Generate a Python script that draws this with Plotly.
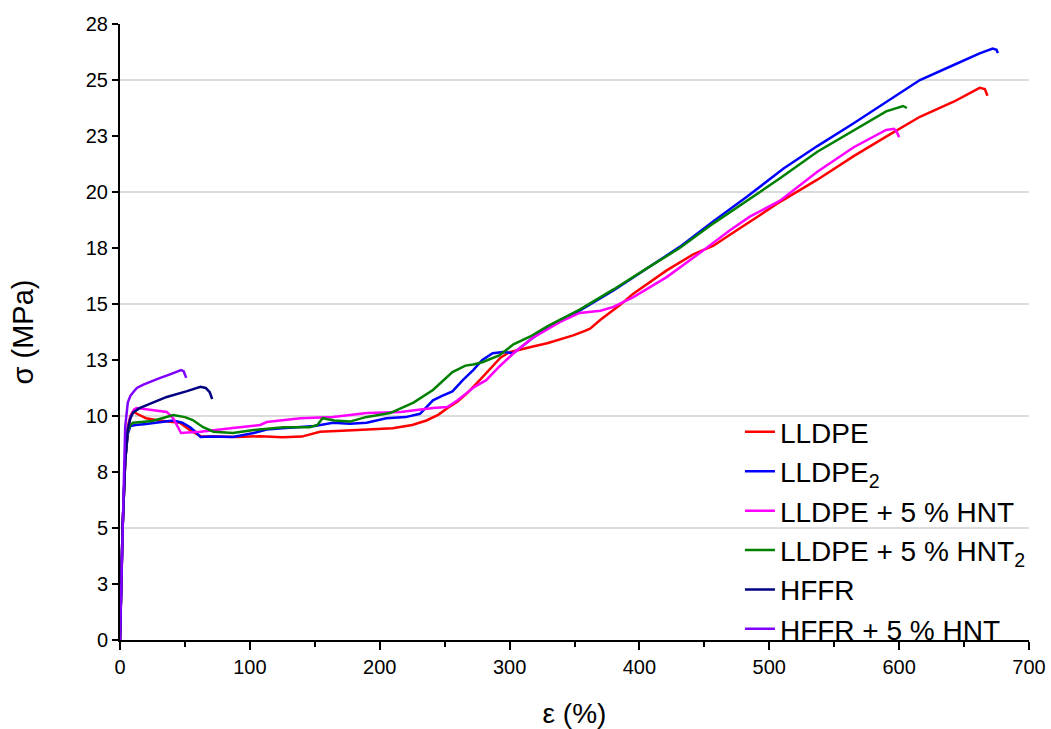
import plotly.graph_objects as go

# Tensile curves: strain (%) vs. stress (MPa)
lldpe_x = [0, 1, 2, 4, 6, 8, 10, 13, 20, 30, 40, 46, 54, 62, 75, 90, 108, 125, 140, 154, 175,
           195, 210, 225, 236, 245, 252, 260, 267, 277, 285, 293, 300, 308, 318, 329, 340, 349,
           358, 362, 370, 378, 385, 395, 406, 421, 441, 457, 470, 483, 508, 537, 565, 590, 616,
           642, 655, 662, 666, 668]
lldpe_y = [0, 2.5, 5, 8, 9.5, 10.0, 10.2, 10.1, 9.9, 9.8, 9.75, 9.7, 9.37, 9.1, 9.08, 9.06,
           9.1, 9.05, 9.08, 9.3, 9.35, 9.4, 9.45, 9.6, 9.8, 10.05, 10.35, 10.65, 11.0, 11.6,
           12.1, 12.6, 12.85, 12.95, 13.1, 13.25, 13.45, 13.6, 13.8, 13.9, 14.3, 14.65, 14.95,
           15.45, 15.9, 16.5, 17.2, 17.6, 18.1, 18.6, 19.55, 20.55, 21.6, 22.47, 23.36, 24.03,
           24.45, 24.65, 24.6, 24.3]

lldpe2_x = [0, 1, 2, 4, 6, 8, 12, 20, 30, 41, 48, 54, 58, 62, 70, 87, 103, 113, 125, 139, 150,
            164, 177, 190, 205, 220, 231, 236, 241, 248, 256, 264, 272, 279, 287, 295, 303, 316,
            329, 340, 354, 380, 406, 431, 457, 483, 511, 537, 565, 590, 616, 642, 662, 672, 675,
            676]
lldpe2_y = [0, 2.5, 5, 8, 9.2, 9.55, 9.6, 9.64, 9.72, 9.8, 9.7, 9.5, 9.3, 9.06, 9.08, 9.06,
            9.24, 9.4, 9.45, 9.5, 9.55, 9.7, 9.65, 9.7, 9.9, 9.95, 10.1, 10.4, 10.7, 10.9, 11.1,
            11.6, 12.05, 12.5, 12.8, 12.86, 12.8, 13.4, 13.95, 14.3, 14.7, 15.6, 16.6, 17.55,
            18.7, 19.8, 21.05, 22.05, 23.07, 24.03, 25.0, 25.67, 26.19, 26.4, 26.35, 26.2]

hnt_x = [0, 1, 2, 4, 6, 8, 11, 13, 23, 36, 41, 44, 47, 55, 62, 87, 108, 113, 139, 164, 190,
         216, 241, 252, 260, 267, 273, 282, 292, 303, 318, 339, 354, 370, 380, 395, 421, 447,
         470, 485, 508, 537, 565, 590, 596, 598, 600]
hnt_y = [0, 2.5, 5, 8, 9.3, 9.96, 10.3, 10.36, 10.27, 10.18, 9.9, 9.6, 9.24, 9.27, 9.3, 9.46,
         9.6, 9.73, 9.9, 9.96, 10.13, 10.18, 10.36, 10.4, 10.7, 11.03, 11.3, 11.6, 12.2, 12.8,
         13.5, 14.2, 14.6, 14.7, 14.87, 15.3, 16.2, 17.3, 18.3, 18.9, 19.6, 20.9, 22.0, 22.77,
         22.82, 22.7, 22.45]

hnt2_x = [0, 1, 2, 4, 6, 8, 10, 25, 41, 50, 56, 64, 72, 87, 103, 126, 146, 152, 156, 165, 177,
          190, 208, 226, 241, 256, 266, 272, 279, 292, 303, 316, 329, 354, 380, 406, 431, 457,
          483, 508, 537, 565, 590, 603, 606]
hnt2_y = [0, 2.5, 5, 8, 9.3, 9.6, 9.7, 9.78, 10.04, 9.95, 9.82, 9.5, 9.3, 9.24, 9.37, 9.5, 9.5,
          9.6, 9.9, 9.8, 9.75, 9.96, 10.13, 10.6, 11.16, 11.96, 12.25, 12.3, 12.4, 12.7, 13.2,
          13.55, 14.0, 14.75, 15.65, 16.6, 17.5, 18.6, 19.6, 20.6, 21.8, 22.77, 23.6, 23.84,
          23.75]

hffr_x = [0, 1, 2, 4, 6, 8, 10, 15, 21, 36, 51, 58, 62, 66, 69, 71]
hffr_y = [0, 2.5, 5, 8, 9.4, 9.9, 10.15, 10.35, 10.5, 10.85, 11.1, 11.25, 11.3, 11.25, 11.07,
          10.76]

hffr_hnt_x = [0, 1, 2, 3, 4, 6, 8, 10, 13, 18, 24, 31, 38, 44, 47, 49, 51]
hffr_hnt_y = [0, 2.5, 5, 7.5, 9.5, 10.6, 10.9, 11.05, 11.25, 11.4, 11.55, 11.7, 11.85, 12.0,
              12.05, 12.0, 11.7]

series_names = ["LLDPE", "LLDPE<sub>2</sub>", "LLDPE + 5 % HNT", "LLDPE + 5 % HNT<sub>2</sub>",
                "HFFR", "HFFR + 5 % HNT"]
series_colors = ["#FF0000", "#0000FF", "#FF00FF", "#008000", "#000080", "#8000FF"]
series_x = [lldpe_x, lldpe2_x, hnt_x, hnt2_x, hffr_x, hffr_hnt_x]
series_y = [lldpe_y, lldpe2_y, hnt_y, hnt2_y, hffr_y, hffr_hnt_y]

# Stress axis: ticks every 2.5 MPa, labels rounded to whole numbers
y_tickvals = [0, 2.5, 5, 7.5, 10, 12.5, 15, 17.5, 20, 22.5, 25, 27.5]
y_ticktext = ["0", "3", "5", "8", "10", "13", "15", "18", "20", "23", "25", "28"]
y_gridvals = [5, 10, 15, 20, 25]
x_tickvals = [0, 100, 200, 300, 400, 500, 600, 700]

FONT = "Liberation Sans, Arial, sans-serif"

fig = go.Figure()
for name, color, xs, ys in zip(series_names, series_colors, series_x, series_y):
    fig.add_trace(go.Scatter(x=xs, y=ys, mode="lines", name=name,
                             line=dict(color=color, width=2.5)))

fig.update_layout(
    width=1051, height=729,
    margin=dict(l=120, r=22, t=24, b=89),
    paper_bgcolor="white", plot_bgcolor="white",
    font=dict(family=FONT, color="black", size=20),
    legend=dict(x=0.682, y=0.378, xanchor="left", yanchor="top",
                bgcolor="rgba(0,0,0,0)", font=dict(size=28, family=FONT, color="black"),
                tracegroupgap=0, itemwidth=30),
    showlegend=True,
)

fig.update_xaxes(
    range=[0, 700], tickvals=x_tickvals, ticks="outside", ticklen=8, tickwidth=2,
    tickcolor="black", showline=True, linecolor="black", linewidth=2, showgrid=False,
    zeroline=False, tickfont=dict(size=20), automargin=False,
    minor=dict(dtick=50, ticks="outside", ticklen=5, tickwidth=2, tickcolor="black",
               showgrid=False),
    title=dict(text="ε (%)", font=dict(size=28), standoff=41),
)
fig.update_yaxes(
    range=[0, 27.5], tickvals=y_tickvals, ticktext=y_ticktext, ticks="outside", ticklen=6,
    tickwidth=2, tickcolor="black", showline=True, linecolor="black", linewidth=2,
    showgrid=False, zeroline=False, tickfont=dict(size=20), automargin=False,
    minor=dict(tickvals=y_gridvals, showgrid=True, gridcolor="#DCDCDC", gridwidth=1.5,
               ticks=""),
    title=dict(text="σ (MPa)", font=dict(size=29), standoff=44),
)

fig.write_html("out.html")
